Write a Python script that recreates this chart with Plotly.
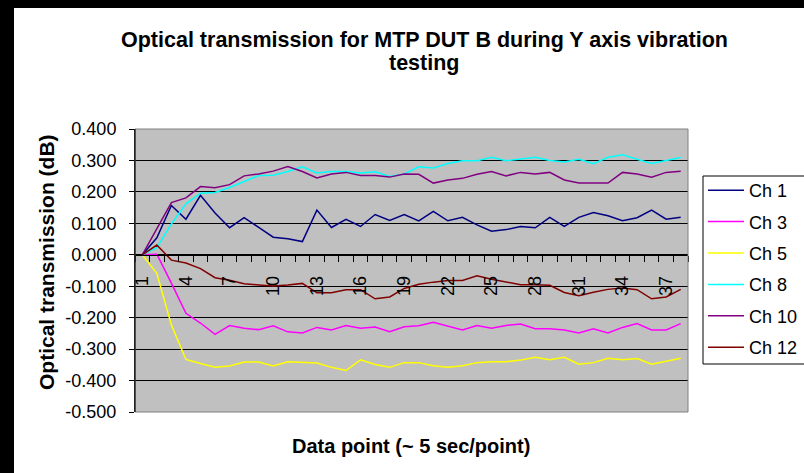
import plotly.graph_objects as go

# ---- data ----
points = list(range(1, 39))

ch1 = [0, .054, .157, .113, .189, .133, .086, .118, .087, .056, .051, .042, .142, .087, .113, .090, .128, .109, .128,
       .108, .138, .108, .119, .095, .075, .080, .090, .086, .119, .090, .119, .134, .124, .108, .118, .142, .113, .119]
ch3 = [0, .002, -.09, -.186, -.217, -.253, -.225, -.234, -.238, -.226, -.245, -.249, -.231, -.239, -.225, -.234, -.230,
       -.245, -.229, -.226, -.215, -.228, -.239, -.225, -.234, -.225, -.220, -.235, -.235, -.239, -.249, -.235, -.249,
       -.231, -.219, -.239, -.239, -.219]
ch5 = [0, -.059, -.223, -.333, -.346, -.358, -.354, -.341, -.341, -.354, -.340, -.343, -.344, -.358, -.368, -.334, -.349,
       -.358, -.343, -.343, -.353, -.358, -.353, -.343, -.340, -.340, -.335, -.326, -.334, -.326, -.348, -.343, -.329,
       -.334, -.330, -.348, -.339, -.329]
ch8 = [0, .023, .098, .162, .196, .198, .214, .233, .252, .253, .265, .280, .260, .265, .265, .260, .264, .249, .257,
       .280, .276, .290, .299, .299, .310, .299, .304, .310, .300, .295, .304, .290, .310, .318, .304, .290, .300, .309]
ch10 = [0, .085, .166, .181, .217, .213, .223, .251, .257, .266, .281, .265, .244, .257, .262, .252, .252, .247, .257,
        .256, .228, .238, .243, .256, .265, .251, .262, .257, .262, .238, .228, .228, .228, .262, .257, .247, .262, .266]
ch12 = [0, .031, -.017, -.026, -.044, -.073, -.081, -.092, -.096, -.099, -.096, -.091, -.121, -.121, -.111, -.111, -.140,
        -.134, -.107, -.094, -.087, -.082, -.082, -.067, -.078, -.087, -.095, -.095, -.097, -.120, -.130, -.119, -.110,
        -.106, -.111, -.140, -.134, -.110]

series_names = ["Ch 1", "Ch 3", "Ch 5", "Ch 8", "Ch 10", "Ch 12"]
series_values = [ch1, ch3, ch5, ch8, ch10, ch12]
series_colors = ["#000080", "#FF00FF", "#FFFF00", "#00FFFF", "#800080", "#800000"]

x_tickvals = list(range(1, 39, 3))
x_ticktext = [str(v) for v in x_tickvals]
y_tickvals = [0.4, 0.3, 0.2, 0.1, 0.0, -0.1, -0.2, -0.3, -0.4, -0.5]
y_ticktext = ["0.400", "0.300", "0.200", "0.100", "0.000", "-0.100", "-0.200", "-0.300", "-0.400", "-0.500"]

title_lines = ["Optical transmission for MTP DUT B during Y axis vibration", "testing"]
x_title = "Data point (~ 5 sec/point)"
y_title = "Optical transmission (dB)"

# ---- layout geometry (pixels) ----
W, H = 804, 473
L, R, T, B = 135, 688, 129, 412
pw, ph = R - L, B - T


def px(x):
    return (x - L) / pw


def py(y):
    return (B - y) / ph


FONT = "Arial, 'Liberation Sans', sans-serif"

fig = go.Figure()
for name, vals, col in zip(series_names, series_values, series_colors):
    fig.add_trace(go.Scatter(x=points, y=vals, name=name, mode="lines",
                             line=dict(color=col, width=1.5), legendgroup=name))

ymin, ymax = -0.5, 0.4
title_ys = [40, 63]
annotations = [
    dict(text="<b>" + t + "</b>", xref="paper", yref="paper",
         x=px(424), y=py(yy), xanchor="center", yanchor="middle", showarrow=False,
         font=dict(size=21.5, family=FONT))
    for t, yy in zip(title_lines, title_ys)
]
annotations += [
    dict(text="<b>" + x_title + "</b>", xref="paper", yref="paper",
         x=px(411), y=py(446), xanchor="center", yanchor="middle", showarrow=False,
         font=dict(size=20, family=FONT)),
    dict(text="<b>" + y_title + "</b>", xref="paper", yref="paper", textangle=-90,
         x=px(46), y=py(262), xanchor="center", yanchor="middle", showarrow=False,
         font=dict(size=21, family=FONT)),
]

fig.update_layout(
    width=W, height=H,
    margin=dict(l=L, r=W - R, t=T, b=H - B, autoexpand=False),
    paper_bgcolor="black", plot_bgcolor="rgba(0,0,0,0)",
    font=dict(family=FONT, color="black", size=18),
    showlegend=True,
    legend=dict(x=px(703), y=py(172), xanchor="left", yanchor="top",
                borderwidth=0, bgcolor="rgba(0,0,0,0)",
                font=dict(size=18, family=FONT), tracegroupgap=5,
                itemwidth=36),
    xaxis=dict(range=[0.5, 38.5], anchor="free", position=(0 - ymin) / (ymax - ymin),
               showgrid=False, zeroline=False, showline=True, linecolor="black", linewidth=1,
               tickmode="array", tickvals=x_tickvals, ticktext=x_ticktext, tickangle=-90,
               ticks="outside", ticklen=6, tickcolor="rgba(0,0,0,0)",
               tickfont=dict(size=18, family=FONT), ticklabelstandoff=7,
               minor=dict(tickmode="linear", tick0=0.5, dtick=1, ticks="outside",
                          ticklen=6, tickcolor="black", showgrid=False)),
    yaxis=dict(range=[ymin, ymax], showgrid=True, gridcolor="black", gridwidth=1,
               zeroline=False, showline=True, linecolor="black", linewidth=1,
               tickmode="array", tickvals=y_tickvals, ticktext=y_ticktext,
               ticks="outside", ticklen=5, tickcolor="black",
               tickfont=dict(size=18, family=FONT), ticklabelstandoff=9),
    shapes=[
        # white page area (the black paper shows only along the top and left edges)
        dict(type="rect", xref="paper", yref="paper", x0=px(14), x1=px(W + 10), y0=py(H + 10), y1=py(8),
             line=dict(width=0), fillcolor="white", layer="below"),
        # plot area background
        dict(type="rect", xref="paper", yref="paper", x0=0, x1=1, y0=0, y1=1,
             line=dict(width=0), fillcolor="#C0C0C0", layer="below"),
        # plot area border
        dict(type="rect", xref="paper", yref="paper", x0=0, x1=1, y0=0, y1=1,
             line=dict(color="#808080", width=1), fillcolor="rgba(0,0,0,0)", layer="above"),
        dict(type="line", xref="paper", yref="paper", x0=0, x1=0, y0=0, y1=1,
             line=dict(color="black", width=1), layer="above"),
        # legend frame
        dict(type="rect", xref="paper", yref="paper", x0=px(703), x1=px(812), y0=py(364), y1=py(176),
             line=dict(color="black", width=1), fillcolor="white", layer="above"),
    ],
    annotations=annotations,
)

fig.write_html(
    "out.html",
    config={"displayModeBar": False},
    post_script="document.body.style.margin='0px';document.body.style.padding='0px';"
                "document.documentElement.style.overflow='hidden';document.body.style.overflow='hidden';",
)
